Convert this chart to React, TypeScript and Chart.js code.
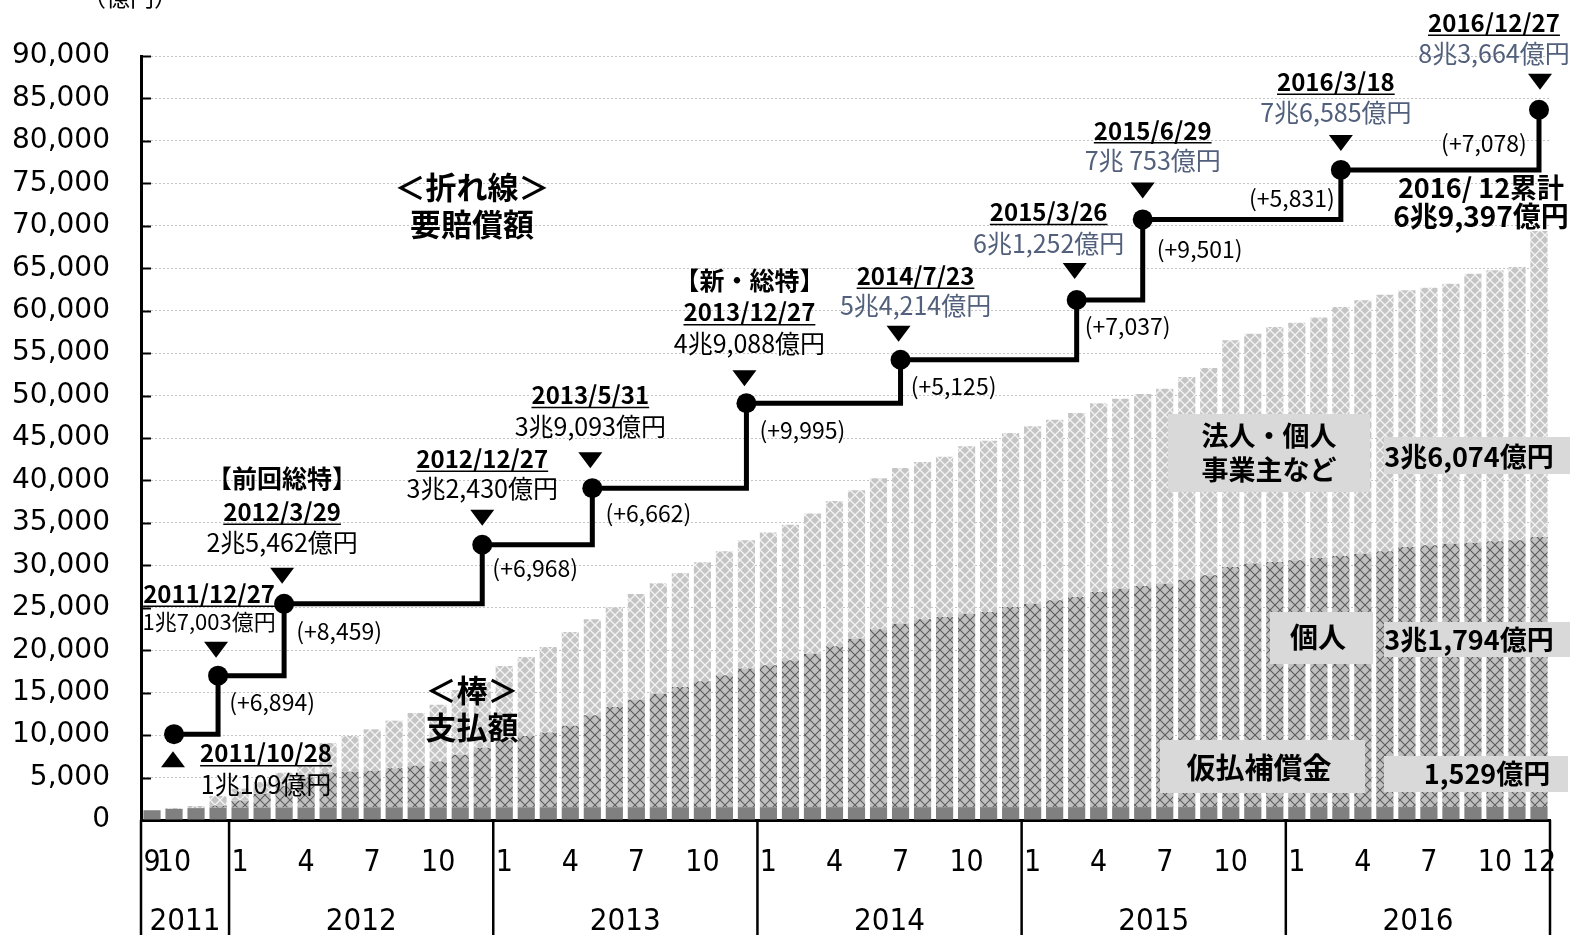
import React, { useEffect, useRef } from 'react';
import { Chart, registerables } from 'chart.js';

Chart.register(...registerables);

// ---------- categories (months) ----------
const categories = [
  '2011/9', '2011/10', '2011/11', '2011/12',
  '2012/1', '2012/2', '2012/3', '2012/4', '2012/5', '2012/6', '2012/7', '2012/8', '2012/9', '2012/10', '2012/11', '2012/12',
  '2013/1', '2013/2', '2013/3', '2013/4', '2013/5', '2013/6', '2013/7', '2013/8', '2013/9', '2013/10', '2013/11', '2013/12',
  '2014/1', '2014/2', '2014/3', '2014/4', '2014/5', '2014/6', '2014/7', '2014/8', '2014/9', '2014/10', '2014/11', '2014/12',
  '2015/1', '2015/2', '2015/3', '2015/4', '2015/5', '2015/6', '2015/7', '2015/8', '2015/9', '2015/10', '2015/11', '2015/12',
  '2016/1', '2016/2', '2016/3', '2016/4', '2016/5', '2016/6', '2016/7', '2016/8', '2016/9', '2016/10', '2016/11', '2016/12',
];

const years = ['2011', '2012', '2013', '2014', '2015', '2016'];
const yearStartIndex = [0, 4, 16, 28, 40, 52];

// ---------- bar series (億円, cumulative payments) ----------
const provisional = [
  1150, 1300, 1400, 1450,
  1460, 1470, 1480, 1480, 1490, 1490, 1500, 1500, 1500, 1500, 1500, 1505,
  1505, 1505, 1505, 1510, 1510, 1510, 1510, 1510, 1512, 1512, 1512, 1514,
  1514, 1515, 1515, 1516, 1516, 1517, 1517, 1518, 1518, 1519, 1519, 1520,
  1520, 1520, 1521, 1521, 1522, 1522, 1523, 1523, 1524, 1524, 1525, 1525,
  1526, 1526, 1526, 1527, 1527, 1527, 1528, 1528, 1528, 1529, 1529, 1529,
];

const individual = [
  0, 0, 0, 250,
  840, 1630, 2520, 3520, 4110, 4210, 4300, 4600, 4900, 5400, 6200, 7000,
  7900, 8400, 8800, 9590, 10820, 11800, 12660, 13370, 14160, 14830, 15530, 16320,
  16710, 17300, 18080, 18940, 19840, 20940, 21610, 22120, 22400, 22780, 22980, 23570,
  23960, 24360, 24750, 25340, 25730, 26050, 26320, 26790, 27310, 28290, 28680, 28870,
  29060, 29340, 29570, 29840, 30120, 30630, 30830, 31020, 31140, 31300, 31420, 31794,
];

const corporate = [
  0, 120, 250, 1120,
  1400, 1380, 1570, 1480, 3470, 4200, 4880, 5600, 6210, 6690, 7600, 7760,
  8740, 9300, 10080, 11050, 11310, 11740, 12450, 13000, 13430, 14020, 14610, 15120,
  15630, 15970, 16500, 17120, 17480, 17790, 18340, 18530, 18880, 19720, 20190, 20500,
  20890, 21280, 21680, 22220, 22380, 22610, 22970, 23880, 24420, 26700, 27090, 27690,
  28000, 28340, 29330, 29850, 30230, 30240, 30350, 30630, 31690, 31920, 32200, 36074,
];

// ---------- step line: 要賠償額 ----------
const milestoneIndex = [1, 3, 6, 15, 20, 27, 34, 42, 45, 54, 63];
const milestoneValues = [10109, 17003, 25462, 32430, 39093, 49088, 54214, 61252, 70753, 76585, 83664];
const milestoneDates = ['2011/10/28', '2011/12/27', '2012/3/29', '2012/12/27', '2013/5/31', '2013/12/27', '2014/7/23', '2015/3/26', '2015/6/29', '2016/3/18', '2016/12/27'];
const milestoneAmounts = ['1兆109億円', '1兆7,003億円', '2兆5,462億円', '3兆2,430億円', '3兆9,093億円', '4兆9,088億円', '5兆4,214億円', '6兆1,252億円', '7兆 753億円', '7兆6,585億円', '8兆3,664億円'];
const milestoneTags = ['', '', '【前回総特】', '', '', '【新・総特】', '', '', '', '', ''];
const milestoneIncrements = ['', '(+6,894)', '(+8,459)', '(+6,968)', '(+6,662)', '(+9,995)', '(+5,125)', '(+7,037)', '(+9,501)', '(+5,831)', '(+7,078)'];

// layout of the milestone labels (offsets from the point, px)
const dateDx = [92, -9, -2, 0, -2, 3, 15, -28, 10, -5, -45];
const dateDy = [19, -82, -92, -86, -93, -91, -84, -88, -89, -88, -87];
const amountDy = [50, -54, -61, -56, -62, -60, -54, -57, -59, -57, -56];
const amountSize = [25, 22, 25, 25, 25, 25, 25, 25, 25, 25, 25];
const amountColor = ['#000', '#000', '#000', '#000', '#000', '#000', '#52607c', '#52607c', '#52607c', '#52607c', '#52607c'];
const triDx = [-1, -2, -2, 0, -2, -2, -2, -2, 0, 0, 1];
const triDy = [25, -26, -28, -27, -28, -25, -26, -29, -29, -27, -28];
const tagDy = [0, 0, -125, 0, 0, -123, 0, 0, 0, 0, 0];
const incDx = [0, 54, 55, 53, 56, 56, 53, 51, 57, -49, -55];
const incDy = [0, 27, 27, 24, 25, 27, 26, 26, 30, 28, 33];

const yTicks = [0, 5000, 10000, 15000, 20000, 25000, 30000, 35000, 40000, 45000, 50000, 55000, 60000, 65000, 70000, 75000, 80000, 85000, 90000];

const CJK = '"Noto Sans CJK JP", "Noto Sans", sans-serif';
const NARROW = '"Liberation Sans Narrow", "DejaVu Sans Condensed", "Liberation Sans", sans-serif';

function makePattern(bg: string, fg: string, lw: number): CanvasPattern | string {
  const s = 10;
  const c = document.createElement('canvas');
  c.width = s;
  c.height = s;
  const g = c.getContext('2d');
  if (!g) return bg;
  g.fillStyle = bg;
  g.fillRect(0, 0, s, s);
  g.strokeStyle = fg;
  g.lineWidth = lw;
  g.beginPath();
  g.moveTo(-1, -1);
  g.lineTo(s + 1, s + 1);
  g.moveTo(s + 1, -1);
  g.lineTo(-1, s + 1);
  g.stroke();
  return g.createPattern(c, 'repeat') || bg;
}

function text(ctx: CanvasRenderingContext2D, t: string, x: number, y: number, font: string, color = '#000', align: CanvasTextAlign = 'center', underline = false) {
  ctx.save();
  ctx.font = font;
  ctx.fillStyle = color;
  ctx.textAlign = align;
  ctx.textBaseline = 'middle';
  ctx.fillText(t, x, y);
  if (underline) {
    const w = ctx.measureText(t).width;
    const sizeMatch = /(\d+)px/.exec(font);
    const size = sizeMatch ? parseInt(sizeMatch[1], 10) : 24;
    let x0 = x - w / 2;
    if (align === 'left') x0 = x;
    if (align === 'right') x0 = x - w;
    ctx.strokeStyle = color;
    ctx.lineWidth = 1.5;
    ctx.beginPath();
    ctx.moveTo(x0, y + size * 0.52);
    ctx.lineTo(x0 + w, y + size * 0.52);
    ctx.stroke();
  }
  ctx.restore();
}

function triangle(ctx: CanvasRenderingContext2D, x: number, y: number, down: boolean) {
  const w = 12;
  const h = 8;
  ctx.save();
  ctx.fillStyle = '#000';
  ctx.beginPath();
  if (down) {
    ctx.moveTo(x - w, y - h);
    ctx.lineTo(x + w, y - h);
    ctx.lineTo(x, y + h);
  } else {
    ctx.moveTo(x - w, y + h);
    ctx.lineTo(x + w, y + h);
    ctx.lineTo(x, y - h);
  }
  ctx.closePath();
  ctx.fill();
  ctx.restore();
}

function box(ctx: CanvasRenderingContext2D, x0: number, y0: number, x1: number, y1: number) {
  ctx.save();
  ctx.fillStyle = '#d9d9d9';
  ctx.fillRect(x0, y0, x1 - x0, y1 - y0);
  ctx.restore();
}

const decorPlugin = {
  id: 'decor',
  beforeDatasetsDraw(chart: any) {
    const ctx: CanvasRenderingContext2D = chart.ctx;
    const y = chart.scales.y;
    const left = chart.chartArea.left;
    ctx.save();
    ctx.strokeStyle = '#000';
    ctx.lineWidth = 2;
    yTicks.forEach((v) => {
      const py = Math.round(y.getPixelForValue(v)) + 0.5;
      ctx.beginPath();
      ctx.moveTo(left, py);
      ctx.lineTo(left + 10, py);
      ctx.stroke();
    });
    ctx.restore();
  },
  afterDatasetsDraw(chart: any) {
    const ctx: CanvasRenderingContext2D = chart.ctx;
    const xs = chart.scales.x;
    const ys = chart.scales.y;
    const area = chart.chartArea;
    const catW = (area.right - area.left) / categories.length;

    // year separators and year labels
    const bounds = [...yearStartIndex, categories.length];
    ctx.save();
    ctx.strokeStyle = '#000';
    ctx.lineWidth = 2.5;
    bounds.forEach((b) => {
      const px = b < categories.length ? xs.getPixelForValue(b) - catW / 2 : xs.getPixelForValue(categories.length - 1) + catW / 2;
      ctx.beginPath();
      ctx.moveTo(px, area.bottom);
      ctx.lineTo(px, chart.height);
      ctx.stroke();
    });
    ctx.restore();
    years.forEach((yr, i) => {
      const a = xs.getPixelForValue(bounds[i]) - catW / 2;
      const b = xs.getPixelForValue(bounds[i + 1] - 1) + catW / 2;
      text(ctx, yr, (a + b) / 2, area.bottom + 102, `31px ${NARROW}`);
    });

    // unit label (cut off at top)
    text(ctx, '（億円）', 130, -3, `24px ${CJK}`);

    // milestone labels
    milestoneIndex.forEach((idx, i) => {
      const px = xs.getPixelForValue(idx);
      const py = ys.getPixelForValue(milestoneValues[i]);
      triangle(ctx, px + triDx[i], py + triDy[i], i !== 0);
      if (milestoneTags[i]) text(ctx, milestoneTags[i], px + dateDx[i], py + tagDy[i], `bold 25px ${CJK}`);
      text(ctx, milestoneDates[i], px + dateDx[i], py + dateDy[i], `bold 24px ${CJK}`, '#000', 'center', true);
      text(ctx, milestoneAmounts[i], px + dateDx[i], py + amountDy[i], `${amountSize[i]}px ${CJK}`, amountColor[i]);
      if (milestoneIncrements[i]) text(ctx, milestoneIncrements[i], px + incDx[i], py + incDy[i], `23px ${CJK}`);
    });

    // captions
    text(ctx, '＜折れ線＞', 472, 187, `bold 31px ${CJK}`);
    text(ctx, '要賠償額', 472, 224, `bold 31px ${CJK}`);
    text(ctx, '＜棒＞', 472, 690, `bold 31px ${CJK}`);
    text(ctx, '支払額', 472, 727, `bold 31px ${CJK}`);
    text(ctx, '2016/ 12累計', 1481, 188, `bold 27px ${CJK}`);
    text(ctx, '6兆9,397億円', 1481, 216, `bold 28px ${CJK}`);

    // series boxes
    box(ctx, 1168, 414, 1370, 492);
    text(ctx, '法人・個人', 1269, 436, `bold 27px ${CJK}`);
    text(ctx, '事業主など', 1269, 470, `bold 27px ${CJK}`);
    box(ctx, 1384, 437, 1570, 474);
    text(ctx, '3兆6,074億円', 1469, 457, `bold 27px ${CJK}`);
    box(ctx, 1270, 612, 1373, 664);
    text(ctx, '個人', 1318, 637, `bold 28px ${CJK}`);
    box(ctx, 1384, 622, 1570, 657);
    text(ctx, '3兆1,794億円', 1469, 640, `bold 27px ${CJK}`);
    box(ctx, 1160, 740, 1365, 793);
    text(ctx, '仮払補償金', 1259, 768, `bold 29px ${CJK}`);
    box(ctx, 1384, 756, 1568, 792);
    text(ctx, '1,529億円', 1487, 774, `bold 27px ${CJK}`);
  },
};

export default function App() {
  const ref = useRef<HTMLCanvasElement | null>(null);

  useEffect(() => {
    const canvas = ref.current;
    if (!canvas) return;
    const lineData: (number | null)[] = categories.map(() => null);
    milestoneIndex.forEach((idx, i) => {
      lineData[idx] = milestoneValues[i];
    });
    const patIndividual = makePattern('#c0c0c0', '#5c5c5c', 1.1);
    const patCorporate = makePattern('#c4c4c4', '#f4f4f4', 1.3);
    const monthNums = categories.map((c) => parseInt(c.split('/')[1], 10));

    const chart = new Chart(canvas, {
      type: 'bar',
      data: {
        labels: categories,
        datasets: [
          {
            type: 'line',
            label: '要賠償額',
            data: lineData,
            stack: 'line',
            order: 0,
            borderColor: '#000',
            borderWidth: 5,
            pointRadius: 10,
            pointBackgroundColor: '#000',
            pointBorderWidth: 0,
            stepped: true,
            spanGaps: true,
            fill: false,
          } as any,
          { label: '仮払補償金', data: provisional, backgroundColor: '#808080', stack: 'bars', order: 1 },
          { label: '個人', data: individual, backgroundColor: patIndividual as any, stack: 'bars', order: 1 },
          { label: '法人・個人事業主など', data: corporate, backgroundColor: patCorporate as any, stack: 'bars', order: 1 },
        ],
      },
      options: {
        animation: false,
        responsive: false,
        devicePixelRatio: 1,
        datasets: { bar: { barPercentage: 0.78, categoryPercentage: 1, borderWidth: 0 } },
        layout: { padding: { top: 56, right: 22, left: 0, bottom: 0 } },
        plugins: { legend: { display: false }, tooltip: { enabled: false } },
        scales: {
          x: {
            stacked: true,
            grid: { display: false, drawTicks: false },
            border: { color: '#000', width: 3 },
            ticks: {
              autoSkip: false,
              maxRotation: 0,
              minRotation: 0,
              padding: 25,
              color: '#000',
              font: { family: NARROW, size: 30 },
              callback: (_v: any, index: number) => {
                const m = monthNums[index];
                if (index === 0 || index === categories.length - 1 || m === 1 || m === 4 || m === 7 || m === 10) return String(m);
                return '';
              },
            },
            afterFit: (s: any) => {
              s.height = 115;
              s.paddingLeft = 0;
              s.paddingRight = 0;
            },
          },
          y: {
            stacked: true,
            min: 0,
            max: 90000,
            afterBuildTicks: (s: any) => {
              s.ticks = yTicks.map((v) => ({ value: v }));
            },
            grid: { color: '#c4c4c4', lineWidth: 1, drawTicks: false },
            border: { color: '#000', width: 3, dash: [2, 2] },
            ticks: {
              padding: 31,
              color: '#000',
              font: { family: '"DejaVu Sans", Verdana, sans-serif', size: 28 },
              callback: (v: any) => Number(v).toLocaleString('en-US'),
            },
            afterFit: (s: any) => {
              s.width = 141;
            },
          },
        },
      },
      plugins: [decorPlugin],
    });
    return () => chart.destroy();
  }, []);

  return (
    <div style={{ position: 'absolute', left: 0, top: 0, width: 1572, height: 935, background: '#fff', overflow: 'hidden' }}>
      <canvas ref={ref} width={1572} height={935} style={{ width: 1572, height: 935, display: 'block' }} />
    </div>
  );
}
